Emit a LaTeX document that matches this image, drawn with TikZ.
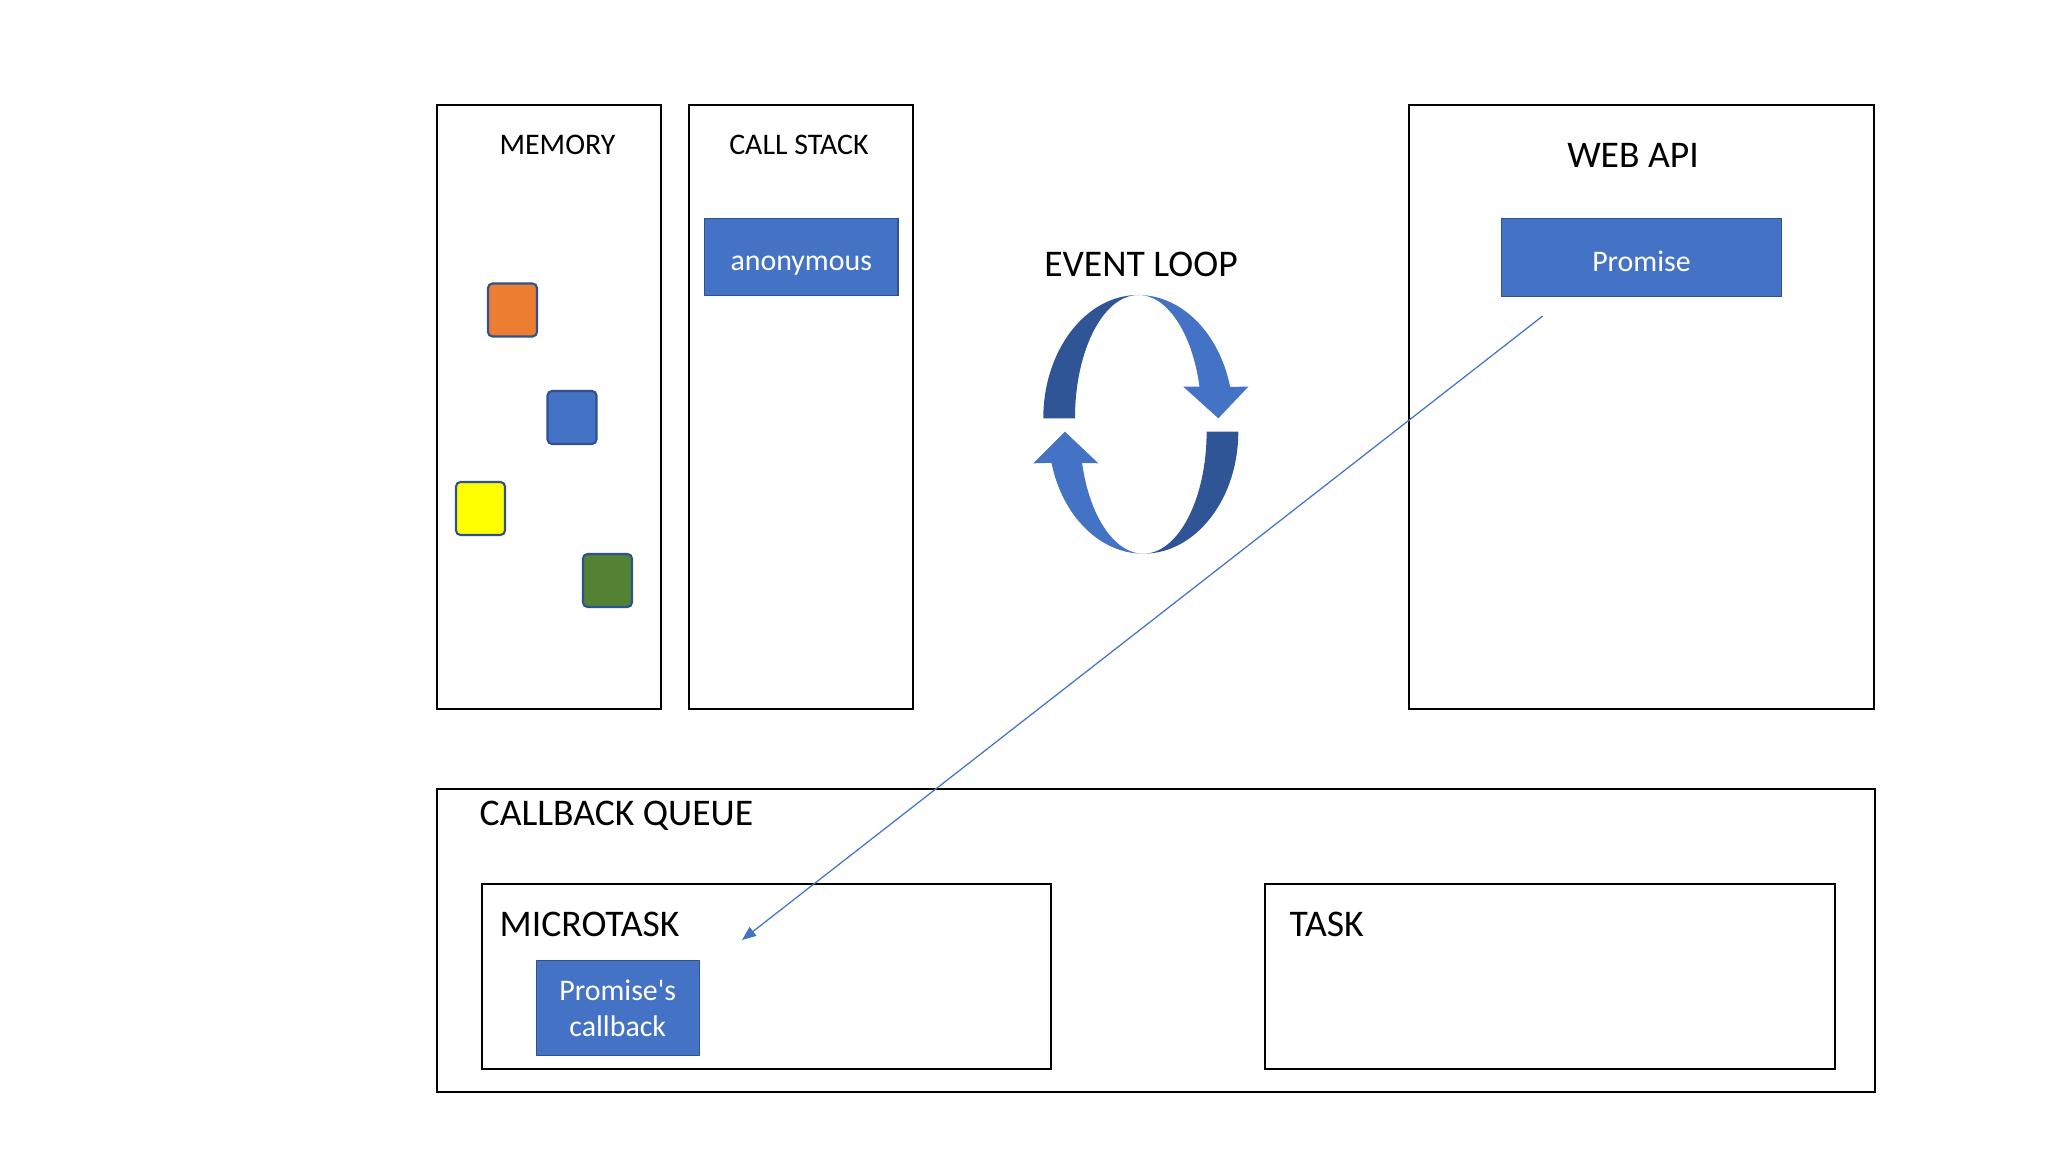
\documentclass[tikz,border=0pt]{standalone}
\usepackage{fontspec}
\setmainfont{Carlito}
\usetikzlibrary{arrows.meta}

\definecolor{boxblue}{HTML}{4472C4}
\definecolor{edgeblue}{HTML}{2F528F}
\definecolor{loopdark}{HTML}{2F5597}
\definecolor{memorange}{HTML}{ED7D31}
\definecolor{memyellow}{HTML}{FFFF00}
\definecolor{memgreen}{HTML}{548235}

\tikzset{
    panel/.style={draw=black, line width=0.6pt, anchor=north west, inner sep=0pt},
    job/.style={draw=edgeblue, fill=boxblue, text=white, line width=0.4pt,
        anchor=north west, inner sep=0pt, align=center,
        font=\fontsize{8.5pt}{10.2pt}\selectfont},
    oneline/.style={text height=0.9em, text depth=0.12em},
    chip/.style={draw=edgeblue, line width=0.6pt, rounded corners=1.3pt,
        minimum width=0.49cm, minimum height=0.53cm, inner sep=0pt},
    smalltitle/.style={anchor=base, inner sep=0pt, font=\fontsize{8.5pt}{10pt}\selectfont},
    bigtitle/.style={inner sep=0pt, font=\fontsize{10.7pt}{12pt}\selectfont},
}

\begin{document}
\begin{tikzpicture}[x=0.01cm, y=0.01cm]

    % the frame
    \useasboundingbox[fill=white] (0,0) rectangle (2048,-1152);

    % the panels
    \node[panel, minimum width=2.24cm, minimum height=6.04cm] (memory) at (436,-104) {};
    \node[panel, minimum width=2.24cm, minimum height=6.04cm] (stack) at (688,-104) {};
    \node[panel, minimum width=4.65cm, minimum height=6.04cm] (webapi) at (1408,-104) {};
    \node[panel, minimum width=14.37cm, minimum height=3.03cm] (queue) at (436,-788) {};
    \node[panel, minimum width=5.69cm, minimum height=1.85cm] (micro) at (481,-883) {};
    \node[panel, minimum width=5.70cm, minimum height=1.85cm] (task) at (1264,-883) {};

    % titles
    \node[smalltitle] (memory-title) at (557.5,-154.5) {MEMORY};
    \node[smalltitle] (stack-title) at (799,-154.5) {CALL STACK};
    \node[bigtitle, anchor=base] (loop-title) at (1141,-276.5) {EVENT LOOP};
    \node[bigtitle, anchor=base] (webapi-title) at (1633,-167.5) {WEB API};
    \node[bigtitle, anchor=base west] (queue-title) at (479,-825.5) {CALLBACK QUEUE};
    \node[bigtitle, anchor=base west] (micro-title) at (499,-936.5) {MICROTASK};
    \node[bigtitle, anchor=base west] (task-title) at (1289,-936.5) {TASK};

    % memory
    \foreach \name/\col/\x/\y in {orange/memorange/512.5/-310, blue/boxblue/572/-417.5,
                                  yellow/memyellow/480.5/-508.5, green/memgreen/607.5/-580.5} {
        \node[chip, fill=\col] (mem-\name) at (\x,\y) {};
    }

    % jobs
    \node[job, oneline, minimum width=1.93cm, minimum height=0.77cm] (anon) at (704,-218) {anonymous};
    \node[job, oneline, minimum width=2.80cm, minimum height=0.78cm] (promise) at (1500.7,-217.7) {Promise};
    \node[job, minimum width=1.63cm, minimum height=0.95cm] (callback) at (535.5,-960)
        {Promise\textquotesingle s\\callback};

    % event loop
    \fill[loopdark] (1043.3,-418.3) arc[start angle=180, end angle=90, x radius=95, y radius=123.3]
        arc[start angle=90, end angle=180, x radius=63.3, y radius=123.3] -- cycle;
    \fill[boxblue] (1138.3,-295) arc[start angle=90, end angle=14.8, x radius=95, y radius=123.3]
        -- (1248.3,-386.7) -- (1218.3,-418.3) -- (1183.3,-386.7) -- (1199.5,-386.7)
        arc[start angle=14.8, end angle=90, x radius=63.3, y radius=123.3] -- cycle;
    \fill[loopdark] (1238.3,-431.7) arc[start angle=0, end angle=-90, x radius=95, y radius=122]
        arc[start angle=-90, end angle=0, x radius=63.3, y radius=122] -- cycle;
    \fill[boxblue] (1143.3,-553.7) arc[start angle=-90, end angle=-165.2, x radius=95, y radius=122]
        -- (1033.3,-463.3) -- (1065,-431.7) -- (1098.3,-463.3) -- (1082.1,-462.9)
        arc[start angle=-165.2, end angle=-90, x radius=63.3, y radius=122] -- cycle;

    % promise to microtask
    \coordinate (src) at (1542.7,-316);
    \coordinate (dst) at (742,-940);
    \draw[boxblue, line width=0.35pt, -{Triangle[length=0.14cm, width=0.11cm]}] (src) -- (dst);

\end{tikzpicture}
\end{document}
